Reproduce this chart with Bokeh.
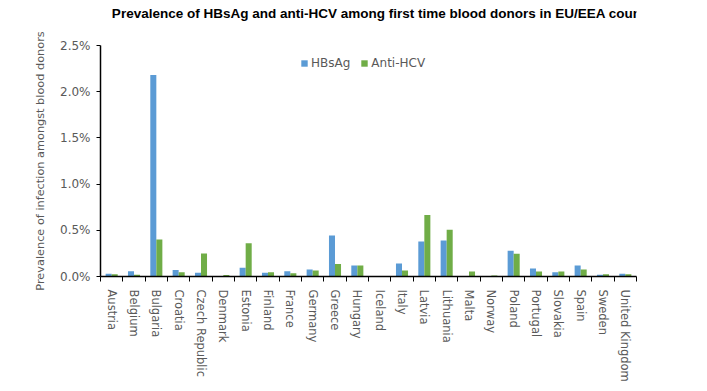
from bokeh.plotting import figure
from bokeh.layouts import column
from bokeh.models import Range1d, FixedTicker, PrintfTickFormatter, ColumnDataSource, Legend, LegendItem
from bokeh.core.properties import value
from bokeh.embed import file_html
from bokeh.resources import INLINE

countries = ["Austria", "Belgium", "Bulgaria", "Croatia", "Czech Republic", "Denmark", "Estonia",
             "Finland", "France", "Germany", "Greece", "Hungary", "Iceland", "Italy", "Latvia",
             "Lithuania", "Malta", "Norway", "Poland", "Portugal", "Slovakia", "Spain", "Sweden",
             "United Kingdom"]
hbsag = [0.03, 0.058, 2.18, 0.07, 0.04, 0.003, 0.095, 0.04, 0.058, 0.075, 0.445, 0.12, 0.0,
         0.14, 0.38, 0.39, 0.0, 0.003, 0.28, 0.087, 0.045, 0.12, 0.018, 0.03]
anti_hcv = [0.025, 0.02, 0.40, 0.045, 0.25, 0.015, 0.36, 0.045, 0.035, 0.065, 0.135, 0.12, 0.0,
            0.065, 0.665, 0.505, 0.055, 0.01, 0.245, 0.055, 0.055, 0.075, 0.025, 0.025]
y_ticks = [0.0, 0.5, 1.0, 1.5, 2.0, 2.5]
title_text = "Prevalence of HBsAg and anti-HCV among first time blood donors in EU/EEA countries*, 2015"

W = 707
TH = 24

# title strip
tfig = figure(width=W, height=TH, output_backend="svg", toolbar_location=None,
              x_range=Range1d(0, W), y_range=Range1d(0, TH),
              x_axis_type=None, y_axis_type=None, min_border=0)
tfig.outline_line_color = None
tfig.background_fill_color = "white"
tfig.border_fill_color = "white"
tfig.text(x=[15], y=[TH - 5], text=[title_text], text_font=value("Liberation Sans"),
          text_font_size=value("13.5px"), text_font_style="bold", text_color="black",
          text_baseline="top", text_align="left")

n = len(countries)
centers = [i + 0.5 for i in range(n)]
off = 0.135
w = 0.27

src = ColumnDataSource(dict(
    xb=[c - off for c in centers], xg=[c + off for c in centers],
    hb=hbsag, hg=anti_hcv))

p = figure(width=W, height=391 - TH, output_backend="svg", toolbar_location=None,
           x_range=Range1d(0, n), y_range=Range1d(0, 2.5),
           min_border_left=100, min_border_right=71, min_border_top=45 - TH, min_border_bottom=115)
p.background_fill_color = "white"
p.border_fill_color = "white"
p.outline_line_color = None
p.grid.visible = False

rb = p.vbar(x="xb", top="hb", width=w, source=src, fill_color="#5B9BD5", line_color=None)
rg = p.vbar(x="xg", top="hg", width=w, source=src, fill_color="#70AD47", line_color=None)

font = "DejaVu Sans"
gray = "#595959"

ya = p.yaxis[0]
ya.ticker = FixedTicker(ticks=y_ticks)
ya.formatter = PrintfTickFormatter(format="%.1f%%")
ya.axis_line_color = "black"
ya.axis_line_width = 1.5
ya.major_tick_line_color = "black"
ya.major_tick_in = 0
ya.major_tick_out = 4
ya.minor_tick_line_color = None
ya.major_label_text_font = font
ya.major_label_text_font_size = "12px"
ya.major_label_text_color = gray
ya.major_label_standoff = 6
ya.axis_label = "Prevalence of infection amongst blood donors"
ya.axis_label_text_font = font
ya.axis_label_text_font_size = "11.3px"
ya.axis_label_text_font_style = "normal"
ya.axis_label_text_color = gray
ya.axis_label_standoff = 10

xa = p.xaxis[0]
xa.ticker = FixedTicker(ticks=centers, minor_ticks=list(range(n + 1)))
xa.major_label_overrides = {c: name for c, name in zip(centers, countries)}
xa.major_label_orientation = "vertical"
xa.axis_line_color = "black"
xa.axis_line_width = 1.5
xa.major_tick_line_color = None
xa.minor_tick_line_color = "black"
xa.minor_tick_in = 0
xa.minor_tick_out = 5
xa.major_label_text_font = font
xa.major_label_text_font_size = "11.5px"
xa.major_label_text_color = gray
xa.major_label_standoff = 7

legend = Legend(items=[LegendItem(label="HBsAg", renderers=[rb]),
                       LegendItem(label="Anti-HCV", renderers=[rg])],
                orientation="horizontal", location=(200, 206),
                label_text_font=font, label_text_font_size="12px", label_text_color=gray,
                glyph_width=8, glyph_height=8, label_standoff=3, spacing=10,
                padding=0, margin=0, border_line_color=None, background_fill_alpha=0)
p.add_layout(legend, "center")

layout = column(tfig, p, spacing=0)
open("out.html", "w").write(file_html(layout, INLINE))
